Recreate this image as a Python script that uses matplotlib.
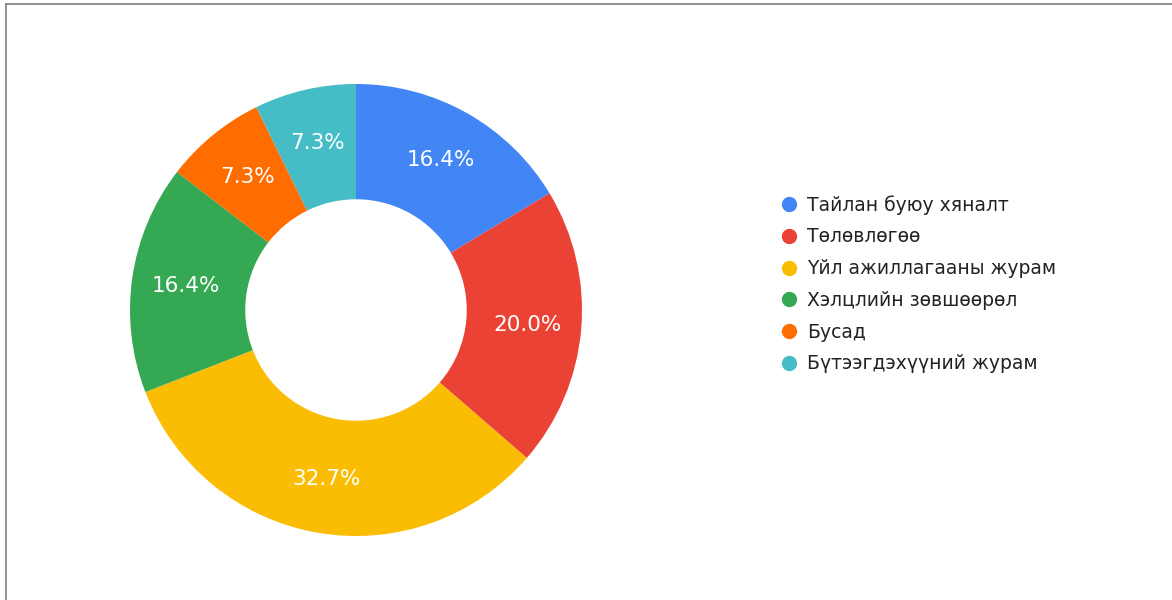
import matplotlib.pyplot as plt
from matplotlib.lines import Line2D

# Data
categories = ['Тайлан буюу хяналт', 'Төлөвлөгөө', 'Үйл ажиллагааны журам',
              'Хэлцлийн зөвшөөрөл', 'Бусад', 'Бүтээгдэхүүний журам']
counts = [9, 11, 18, 9, 4, 4]
colors = ['#4285F4', '#EA4335', '#FBBC04', '#34A853', '#FF6D01', '#46BDC6']

plt.rcParams['font.family'] = ['DejaVu Sans']

fig = plt.figure(figsize=(11.72, 6), dpi=100)
fig.patch.set_facecolor('white')

# thin gray frame along top and left edges
fig.add_artist(Line2D([6 / 1172, 1], [1 - 4 / 600, 1 - 4 / 600], color='#7f7f7f', lw=1.2))
fig.add_artist(Line2D([6 / 1172, 6 / 1172], [0, 1 - 4 / 600], color='#7f7f7f', lw=1.2))

ax = fig.add_axes([130 / 1172, 64 / 600, 452 / 1172, 452 / 600])
wedges, texts, autotexts = ax.pie(
    counts, colors=colors, startangle=90, counterclock=False,
    autopct='%1.1f%%', pctdistance=0.76, radius=1,
    wedgeprops=dict(width=0.51, linewidth=0),
    textprops=dict(color='white', fontsize=15.5))
ax.set_xlim(-1, 1)
ax.set_ylim(-1, 1)
ax.set_aspect('equal')
ax.axis('off')

handles = [Line2D([], [], marker='o', linestyle='none', markersize=10,
                  markerfacecolor=c, markeredgecolor=c) for c in colors]
fig.legend(handles, categories, loc='upper left',
           bbox_to_anchor=(780 / 1172, 1 - 195 / 600), frameon=False,
           fontsize=13.5, labelspacing=0.68, handletextpad=0.45,
           handlelength=1.0, borderpad=0, borderaxespad=0,
           labelcolor='#222222')

fig.savefig('out.png', dpi=100, facecolor='white')
